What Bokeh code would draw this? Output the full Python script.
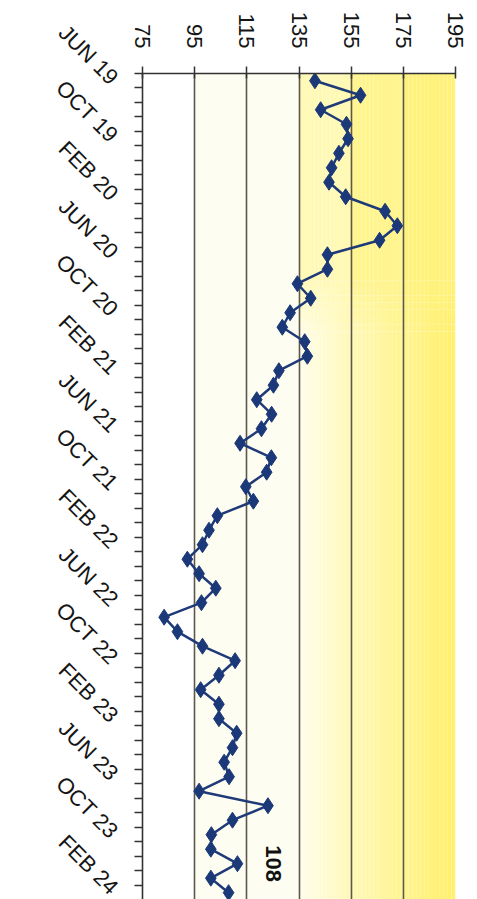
import math
import numpy as np
from bokeh.plotting import figure
from bokeh.models import Range1d, FixedTicker
from bokeh.core.properties import value
from bokeh.embed import file_html
from bokeh.resources import INLINE

# ---- data ----
month_labels = ["JUN 19", "OCT 19", "FEB 20", "JUN 20", "OCT 20", "FEB 21", "JUN 21",
                "OCT 21", "FEB 22", "JUN 22", "OCT 22", "FEB 23", "JUN 23", "OCT 23", "FEB 24"]
label_step = 4  # one label every 4 months
values = [141.1, 158.6, 143.3, 153.2, 153.8, 150.3, 147.5, 146.5, 152.9, 168.0,
          172.7, 165.9, 145.9, 145.9, 134.4, 139.5, 131.6, 128.6, 137.2, 138.2,
          127.3, 125.2, 118.8, 124.5, 120.6, 112.4, 124.4, 122.6, 114.6, 117.5,
          103.7, 100.5, 98.0, 92.2, 96.7, 103.1, 97.6, 83.3, 88.4, 98.0,
          110.5, 104.3, 97.3, 104.3, 104.3, 111.1, 109.5, 106.3, 108.2, 96.7,
          123.1, 109.5, 101.4, 101.2, 111.4, 101.2, 108.0]
value_ticks = [75, 95, 115, 135, 155, 175, 195]
annotation_text = "108"
annotation_value = 125.3
annotation_month = 54.0

idx = list(range(len(values)))
n = len(values)

FONT = "Liberation Sans"

p = figure(width=477, height=899,
           x_range=Range1d(75, 195), y_range=Range1d(56.47, -0.5),
           x_axis_location="above", y_axis_location="left",
           output_backend="svg", toolbar_location=None,
           min_border_left=142, min_border_right=22, min_border_top=73, min_border_bottom=0)
p.background_fill_color = "white"
p.border_fill_color = "white"
p.outline_line_color = None

# ---- background (drawn below the grid) ----
y_lo, y_hi = -0.5, n + 1
p.quad(left=[95], right=[135], bottom=[y_hi], top=[y_lo], fill_color="#FEFDF1",
       line_color=None, level="image")

def mix(c1, c2, t):
    a = [int(c1[i:i + 2], 16) for i in (1, 3, 5)]
    b = [int(c2[i:i + 2], 16) for i in (1, 3, 5)]
    return "#%02x%02x%02x" % tuple(round(a[k] + (b[k] - a[k]) * t) for k in range(3))

def top_col(xc):
    if xc < 155:
        return "#FFF9B6"
    if xc < 175:
        return "#FFF48E"
    return "#FFF27C"

strips = 40
edges = np.linspace(135, 195, strips + 1)
row_edges = [y_lo, 13.8] + [13.8 + 0.5 * k for k in range(1, 8)] + [y_hi]
L, R, B, T, C = [], [], [], [], []
for r in range(len(row_edges) - 1):
    y0, y1 = row_edges[r], row_edges[r + 1]
    if r == 0:
        w = 0.0
    elif r == len(row_edges) - 2:
        w = 1.0
    else:
        w = r / (len(row_edges) - 2)
    for i in range(strips):
        xc = 0.5 * (edges[i] + edges[i + 1])
        lower = mix("#FFFEF0", "#FFF06C", ((xc - 135) / 60) ** 0.8)
        C.append(mix(top_col(xc), lower, w))
        L.append(edges[i]); R.append(edges[i + 1]); T.append(y0); B.append(y1)
p.quad(left=L, right=R, bottom=B, top=T, fill_color=C, line_color=None, level="image")

# ---- grid ----
p.xgrid.ticker = FixedTicker(ticks=value_ticks[1:])
p.xgrid.grid_line_color = "#5b584a"
p.xgrid.grid_line_width = 1.6
p.ygrid.grid_line_color = None

# ---- series ----
p.line(values, idx, line_color="#1F3A78", line_width=2.5)
p.scatter(values, idx, marker="diamond", size=16, fill_color="#1B3978", line_color="#1B3978")

p.text(x=[annotation_value], y=[annotation_month], text=[annotation_text],
       angle=-math.pi / 2, text_align="center", text_baseline="middle",
       text_font=value(FONT), text_font_size="22px", text_font_style="bold", text_color="#111111")

# ---- value axis (top) ----
xa = p.xaxis[0]
xa.ticker = FixedTicker(ticks=value_ticks)
xa.major_label_orientation = -math.pi / 2
xa.major_label_text_font = FONT
xa.major_label_text_font_size = "22px"
xa.major_label_text_color = "#151515"
xa.major_label_standoff = 18
xa.major_tick_in = 5
xa.major_tick_out = 7
xa.major_tick_line_color = "#333333"
xa.major_tick_line_width = 1.5
xa.minor_tick_line_color = None
xa.axis_line_color = "#333333"
xa.axis_line_width = 1.6

# ---- month axis (left) ----
ya = p.yaxis[0]
major = list(range(0, n, label_step))
ya.ticker = FixedTicker(ticks=major, minor_ticks=[i - 0.5 for i in range(n + 1)])
ya.major_label_overrides = {t: month_labels[k] for k, t in enumerate(major)}
ya.major_label_orientation = -math.pi / 4
ya.major_label_text_font = FONT
ya.major_label_text_font_size = "22px"
ya.major_label_text_color = "#151515"
ya.major_label_standoff = 20
ya.major_tick_line_color = None
ya.major_tick_out = 8
ya.major_tick_in = 0
ya.minor_tick_out = 8
ya.minor_tick_in = 0
ya.minor_tick_line_color = "#333333"
ya.minor_tick_line_width = 1.5
ya.axis_line_color = "#333333"
ya.axis_line_width = 1.6

open("out.html", "w").write(file_html(p, INLINE))
